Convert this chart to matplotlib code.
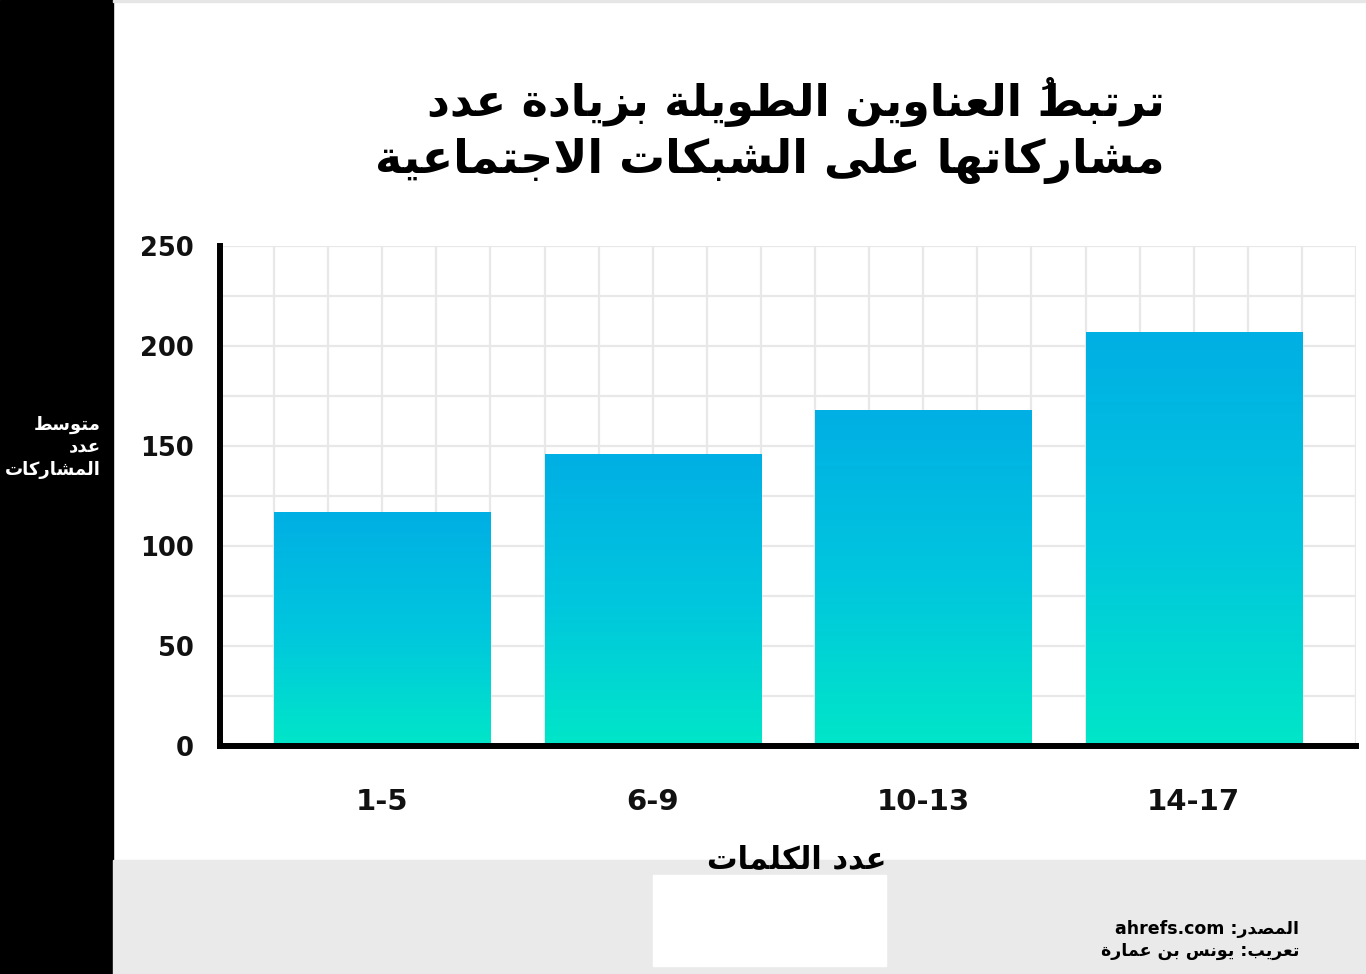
import re
import matplotlib
matplotlib.use("Agg")
import matplotlib.pyplot as plt
import numpy as np
from matplotlib.patches import Rectangle
from matplotlib.colors import LinearSegmentedColormap

# البيانات
categories = ["1-5", "6-9", "10-13", "14-17"]
avg_shares = [117, 146, 168, 207]
y_ticks = [0, 50, 100, 150, 200, 250]

title_lines = ["ترتبطُ العناوين الطويلة بزيادة عدد", "مشاركاتها على الشبكات الاجتماعية"]
ylabel_lines = ["متوسط", "عدد", "المشاركات"]
xlabel_text = "عدد الكلمات"
footer_lines = ["المصدر: ahrefs.com", "تعريب: يونس بن عمارة"]

# matplotlib لا يشكّل الحروف العربية، فنحوّلها يدوياً إلى أشكال العرض
ARABIC = {
    'ا': (0xFE8D, False), 'ب': (0xFE8F, True), 'ة': (0xFE93, False), 'ت': (0xFE95, True),
    'ج': (0xFE9D, True), 'د': (0xFEA9, False), 'ر': (0xFEAD, False), 'ز': (0xFEAF, False),
    'س': (0xFEB1, True), 'ش': (0xFEB5, True), 'ص': (0xFEB9, True), 'ط': (0xFEC1, True),
    'ع': (0xFEC9, True), 'ك': (0xFED9, True), 'ل': (0xFEDD, True), 'م': (0xFEE1, True),
    'ن': (0xFEE5, True), 'ه': (0xFEE9, True), 'و': (0xFEED, False), 'ى': (0xFEEF, False),
    'ي': (0xFEF1, True), 'لا': (0xFEFB, False),
}
MARKS = {'\u064f'}


def ar(text):
    units = []
    i = 0
    while i < len(text):
        if text[i] == 'ل' and i + 1 < len(text) and text[i + 1] == 'ا':
            units.append('لا')
            i += 2
        else:
            units.append(text[i])
            i += 1
    out = []
    for k, u in enumerate(units):
        if u not in ARABIC:
            out.append(u)
            continue
        j = k - 1
        while j >= 0 and units[j] in MARKS:
            j -= 1
        prev = j >= 0 and units[j] in ARABIC and ARABIC[units[j]][1]
        j = k + 1
        while j < len(units) and units[j] in MARKS:
            j += 1
        nxt = j < len(units) and units[j] in ARABIC
        iso, dual = ARABIC[u]
        if dual:
            f = 3 if (prev and nxt) else 2 if nxt else 1 if prev else 0
        else:
            f = 1 if prev else 0
        out.append(chr(iso + f))
    # ترتيب بصري من اليسار لليمين، مع إبقاء الكلمات اللاتينية كما هي
    s = ''.join(out[::-1])
    return re.sub(r'[A-Za-z0-9.]+', lambda m: m.group(0)[::-1], s)


W, H = 1366, 974
fig = plt.figure(figsize=(W / 100, H / 100), dpi=100)
fig.patch.set_facecolor("white")

def fx(px):
    return px / W

def fy(py):
    return 1 - py / H

# الخلفيات
fig.add_artist(Rectangle((0, 0), fx(113), 1, transform=fig.transFigure,
                         color="black", zorder=-5))
fig.add_artist(Rectangle((fx(113), 0), 1 - fx(113), fy(860), transform=fig.transFigure,
                         color="#EAEAEA", zorder=-5))
fig.add_artist(Rectangle((fx(653), fy(966)), fx(233), fy(875) - fy(966),
                         transform=fig.transFigure, color="white", zorder=-4))
fig.add_artist(Rectangle((fx(113), fy(2)), 1 - fx(113), 2 / H, transform=fig.transFigure,
                         color="#E6E6E6", zorder=-4))

ax = fig.add_axes([fx(220), fy(746), fx(1356) - fx(220), fy(246) - fy(746)])
ax.patch.set_alpha(0)

x = np.arange(len(categories))
bars = ax.bar(x, avg_shares, width=0.8, color="none", zorder=2)
cmap = LinearSegmentedColormap.from_list("grad", ["#00E6C8", "#00C6DE", "#00AFE4"])
grad = np.linspace(0, 1, 256).reshape(-1, 1)
for b in bars:
    ax.imshow(grad, cmap=cmap, origin="lower", aspect="auto", zorder=2,
              extent=[b.get_x(), b.get_x() + b.get_width(), 0, b.get_height()])

ax.set_xlim(-0.6, 3.6)
ax.set_ylim(0, 250)
ax.set_xticks(x)
ax.set_xticklabels(categories)
ax.set_xticks(np.arange(-0.6, 3.61, 0.2), minor=True)
ax.set_yticks(y_ticks)
ax.set_yticks(np.arange(0, 251, 25), minor=True)
ax.grid(True, which="both", color="#E8E8E8", linewidth=1.6)
ax.set_axisbelow(True)
ax.tick_params(which="both", length=0)
ax.tick_params(axis="y", pad=19, labelsize=18.5, labelcolor="#111111")
ax.tick_params(axis="x", pad=30, labelsize=21, labelcolor="#111111")
for lbl in ax.get_xticklabels() + ax.get_yticklabels():
    lbl.set_fontweight("bold")

for side in ["top", "right"]:
    ax.spines[side].set_visible(False)
for side in ["left", "bottom"]:
    ax.spines[side].set_linewidth(4.3)
    ax.spines[side].set_color("black")
    ax.spines[side].set_capstyle("projecting")

# العنوان
fig.text(fx(1165), fy(116), ar(title_lines[0]), ha="right", va="baseline",
         fontsize=32, fontweight="bold", family=["DejaVu Sans"])
fig.text(fx(1165), fy(173), ar(title_lines[1]), ha="right", va="baseline",
         fontsize=33, fontweight="bold", family=["DejaVu Sans"])

# عنوان المحور الرأسي
for i, line in enumerate(ylabel_lines):
    fig.text(fx(101), fy(425 + 22.5 * i), ar(line), ha="right", va="center",
             fontsize=13, fontweight="bold", color="white", family=["DejaVu Sans"])

# عنوان المحور الأفقي
fig.text(fx(797), fy(868), ar(xlabel_text), ha="center", va="baseline",
         fontsize=22, fontweight="bold", family=["DejaVu Sans"], zorder=10)

# المصدر
for i, line in enumerate(footer_lines):
    fig.text(fx(1299), fy(929 + 22 * i), ar(line), ha="right", va="center",
             fontsize=12.5, fontweight="bold", family=["DejaVu Sans"])

fig.savefig("out.png", dpi=100)
